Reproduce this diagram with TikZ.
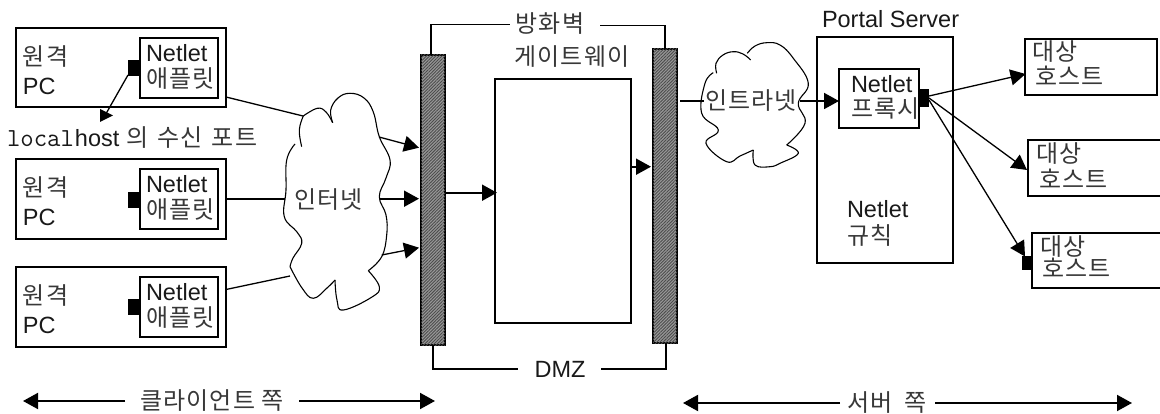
\documentclass[tikz,border=0pt]{standalone}
\usepackage{fontspec}
\setmainfont{Liberation Sans}
\newfontfamily\kr[LetterSpace=5]{Noto Sans CJK KR}
\usetikzlibrary{arrows.meta,patterns.meta}
\tikzset{
  x=1pt,y=-1pt,
  txt/.style={anchor=base west,inner sep=0pt,outer sep=0pt,font=\fontsize{23.5}{23.5}\selectfont,text=black!90},
  krt/.style={anchor=base west,inner sep=0pt,outer sep=0pt,font=\kr\fontsize{24}{24}\selectfont,text=black!78},
  krc/.style={anchor=center,inner sep=0pt,outer sep=0pt,font=\kr\fontsize{24}{24}\selectfont,text=black!78},
  txc/.style={anchor=center,inner sep=0pt,outer sep=0pt,font=\fontsize{23.5}{23.5}\selectfont,text=black!90},
  box/.style={draw,line width=1.9pt,anchor=north west,inner sep=0pt,outer sep=0pt},
  port/.style={fill=black,anchor=north west,inner sep=0pt,outer sep=0pt},
  wall/.style={draw,line width=1.9pt,anchor=north west,inner sep=0pt,outer sep=0pt,fill=black!40,
     postaction={pattern={Lines[angle=45,distance=2.2pt,line width=0.9pt]},pattern color=black!70}},
  conn/.style={line width=1.3pt},
  thick conn/.style={line width=1.9pt},
  arr/.style={-{Triangle[length=15pt,width=16pt]}},
  cloudline/.style={line width=1.1pt,line join=round},
}
\begin{document}
\begin{tikzpicture}
\useasboundingbox (0,0) rectangle (1160,414);
% --- PC groups
\node[box,minimum width=210pt,minimum height=79pt] (pcA) at (16,28) {};
\node[box,minimum width=78pt,minimum height=60pt] (apA) at (140,38) {};
\node[port,minimum width=12pt,minimum height=16pt] (poA) at (128,60) {};
\node[krt] (wA) at (23,65.5) {원격};
\node[txt] (pA) at (23,95) {PC};
\node[txt] (nA) at (146,62) {Netlet};
\node[krt] (kA) at (146,87.5) {애플릿};

\node[box,minimum width=210pt,minimum height=80pt] (pcB) at (16,159) {};
\node[box,minimum width=78pt,minimum height=60pt] (apB) at (140,169) {};
\node[port,minimum width=12pt,minimum height=16pt] (poB) at (128,192) {};
\node[krt] (wB) at (23,196.5) {원격};
\node[txt] (pB) at (23,226) {PC};
\node[txt] (nB) at (146,193) {Netlet};
\node[krt] (kB) at (146,218.5) {애플릿};

\node[box,minimum width=210pt,minimum height=80pt] (pcC) at (16,267) {};
\node[box,minimum width=78pt,minimum height=60pt] (apC) at (140,277) {};
\node[port,minimum width=12pt,minimum height=16pt] (poC) at (128,299) {};
\node[krt] (wC) at (23,304.5) {원격};
\node[txt] (pC) at (23,334) {PC};
\node[txt] (nC) at (146,301) {Netlet};
\node[krt] (kC) at (146,326.5) {애플릿};

% --- localhost label
\node[anchor=base west,inner sep=0pt,outer sep=0pt,font=\fontsize{23.5}{23.5}\selectfont,text=black!90] (lh) at (7,146.5)
  {{\ttfamily\fontsize{26}{26}\selectfont local}\hspace{1pt}host\hspace{7pt}{\kr\fontsize{24}{24}\selectfont\color{black!78}의\hspace{9pt}수신\hspace{9pt}포트}};
\coordinate (ltip) at (105,115.5);
\coordinate (lfrom) at (128,75);
\draw[conn] (lfrom) -- (ltip);
\fill (100,109) -- (113,115.5) -- (100,122) -- cycle;

% --- Internet cloud
\draw[cloudline] plot[smooth,tension=0.7] coordinates {(303.3,116) (317.3,108.3) (326,112) (332.7,122.7)};
\draw[cloudline] plot[smooth,tension=0.7] coordinates {(332.7,122.7) (330.7,110) (338,98) (350,93.3) (364,98) (373.3,112) (379.3,136.7) (390,160) (386,178) (379.3,196.7) (386,215) (386.7,235) (381.7,256.7) (368.3,270.7)};
\draw[cloudline] plot[smooth,tension=0.7] coordinates {(368.3,270.7) (379.3,286.7) (372,297) (343.3,310) (337,300) (335,280)};
\draw[cloudline] plot[smooth,tension=0.7] coordinates {(335,280) (327,288) (313.3,298.3) (302,288) (290,266.7)};
\draw[cloudline] plot[smooth,tension=0.7] coordinates {(290,266.7) (293,258) (301.7,243.3) (297,232) (284.3,216.7) (286,190) (286.7,160) (295,144)};
\draw[cloudline] plot[smooth,tension=0.7] coordinates {(301.7,146.7) (299.3,130) (303.3,116)};
\node[krc] (inet) at (328.5,200) {인터넷};

% --- Firewalls & gateway
\node[wall,minimum width=24pt,minimum height=290pt] (fwL) at (421,55) {};
\node[wall,minimum width=24pt,minimum height=294pt] (fwR) at (653,49) {};
\node[box,minimum width=136pt,minimum height=244pt] (gw) at (495,79) {};
\node[krc] (fwt) at (550,24) {방화벽};
\node[krc] (gwt) at (572,57) {게이트웨이};
\node[txc] (dmz) at (560,369) {DMZ};

\coordinate (fa) at (431,55); \coordinate (fb) at (431,24.5); \coordinate (fc) at (510,24.5);
\coordinate (fd) at (600,25.5); \coordinate (fe) at (665,25.5); \coordinate (ff) at (665,49);
\draw[thick conn] (fa) -- (fb) -- (fc);
\draw[thick conn] (fd) -- (fe) -- (ff);
\coordinate (da) at (433,345); \coordinate (db) at (433,369); \coordinate (dc) at (518,369);
\coordinate (dd) at (601,369); \coordinate (de) at (666,369); \coordinate (df) at (666,343);
\draw[thick conn] (da) -- (db) -- (dc);
\draw[thick conn] (dd) -- (de) -- (df);

% --- Client side connectors
\coordinate (c1a) at (226,97); \coordinate (c1b) at (303,116);
\coordinate (c1c) at (379,137); \coordinate (c1d) at (419,147.7);
\coordinate (c2a) at (226,198.7); \coordinate (c2b) at (285,198.7);
\coordinate (c2c) at (380,198.7); \coordinate (c2d) at (419,198.7);
\coordinate (c3a) at (226,289.5); \coordinate (c3b) at (290,276);
\coordinate (c3c) at (381.7,255); \coordinate (c3d) at (419,247.7);
\draw[conn] (c1a) -- (c1b);
\draw[conn,arr] (c1c) -- (c1d);
\draw[thick conn] (c2a) -- (c2b);
\draw[thick conn,arr] (c2c) -- (c2d);
\draw[conn] (c3a) -- (c3b);
\draw[conn,arr] (c3c) -- (c3d);
\coordinate (g1a) at (446,192.7); \coordinate (g1b) at (497,192.7);
\draw[thick conn,arr] (g1a) -- (g1b);
\coordinate (g2a) at (632,166.7); \coordinate (g2b) at (651,166.7);
\draw[thick conn,arr] (g2a) -- (g2b);

% --- Intranet cloud
\draw[cloudline] plot[smooth,tension=0.7] coordinates {(716.7,73.3) (716,63.3) (723,55) (733.3,51.7) (743,54) (750.7,60)};
\draw[cloudline] plot[smooth,tension=0.7] coordinates {(747.3,53.3) (755,46) (766.7,42.7) (780,45) (793.3,58.3) (808.3,83.3) (798.3,103.3) (805,123.3) (786.7,145)};
\draw[cloudline] plot[smooth,tension=0.7] coordinates {(786.7,145) (798.3,153.3) (780,163.3) (770,166.7) (755,165) (753.3,150)};
\draw[cloudline] plot[smooth,tension=0.7] coordinates {(753.3,150) (740,156) (726.7,161.7) (706,143.3) (718.3,130) (701.7,113.3) (705,83.3) (713.3,72.7)};
\node[krc] (inra) at (751,101) {인트라넷};

% --- Portal server
\node[txt] (pst) at (822,27.7) {Portal Server};
\node[box,minimum width=136pt,minimum height=226pt] (ps) at (817,37) {};
\node[box,minimum width=80pt,minimum height=59pt] (np) at (839,69) {};
\node[port,minimum width=10pt,minimum height=18pt] (pp) at (919,89) {};
\node[txt] (nn) at (851,92.7) {Netlet};
\node[krt] (nk) at (851,118) {프록시};
\node[txt] (rn) at (847,218) {Netlet};
\node[krt] (rk) at (847,244.5) {규칙};

\coordinate (i1a) at (680,101); \coordinate (i1b) at (704,101);
\draw[thick conn] (i1a) -- (i1b);
\coordinate (i2a) at (800,101); \coordinate (i2b) at (839,101);
\draw[thick conn,arr] (i2a) -- (i2b);

% --- Hosts
\node[box,minimum width=132pt,minimum height=56pt] (hA) at (1025,39) {};
\node[krt] (hA1) at (1032,61) {대상};
\node[krt] (hA2) at (1035,86) {호스트};
\node[box,minimum width=136pt,minimum height=56pt] (hB) at (1028,140) {};
\node[krt] (hB1) at (1036,163) {대상};
\node[krt] (hB2) at (1039,188.5) {호스트};
\node[box,minimum width=132pt,minimum height=55pt] (hC) at (1032,233) {};
\node[port,minimum width=10pt,minimum height=14pt] (hCp) at (1022,256) {};
\node[krt] (hC1) at (1040,256) {대상};
\node[krt] (hC2) at (1042,278) {호스트};

\coordinate (s1) at (929,96); \coordinate (s2) at (929,98); \coordinate (s3) at (929,100);
\coordinate (t1) at (1025.5,74); \coordinate (t2) at (1027,170); \coordinate (t3) at (1025,256.5);
\draw[conn,arr] (s1) -- (t1);
\draw[conn,arr] (s2) -- (t2);
\draw[conn,arr] (s3) -- (t3);

% --- Bottom labels
\node[krc] (cl) at (212,401) {클라이언트 쪽};
\coordinate (cla) at (125,401); \coordinate (clb) at (23,401);
\coordinate (clc) at (299,401); \coordinate (cld) at (435,401);
\draw[thick conn,arr] (cla) -- (clb);
\draw[thick conn,arr] (clc) -- (cld);
\node[krc] (sv) at (887,403) {서버\hspace{5pt} 쪽};
\coordinate (sva) at (840,403); \coordinate (svb) at (683,403);
\coordinate (svc) at (935,403); \coordinate (svd) at (1132,403);
\draw[thick conn,arr] (sva) -- (svb);
\draw[thick conn,arr] (svc) -- (svd);
\end{tikzpicture}
\end{document}
